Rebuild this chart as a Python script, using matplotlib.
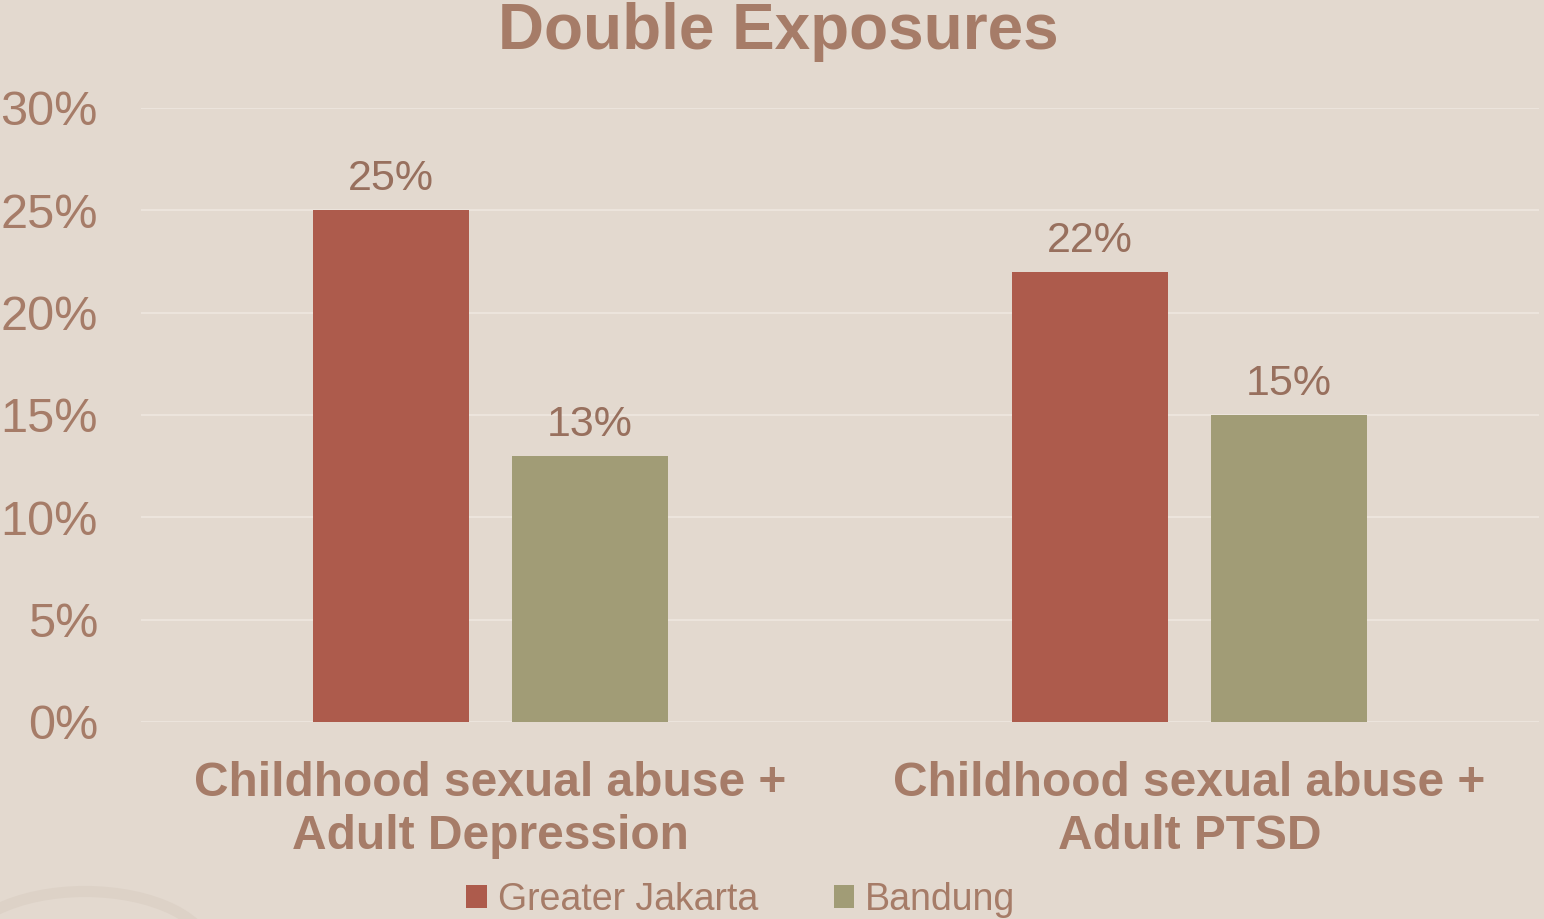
import numpy as np
import matplotlib.pyplot as plt
from matplotlib.patches import Ellipse
from matplotlib.ticker import FuncFormatter

categories = ["Childhood sexual abuse +\nAdult Depression", "Childhood sexual abuse +\nAdult PTSD"]
jakarta = [25, 22]
bandung = [13, 15]
series_names = ["Greater Jakarta", "Bandung"]

bg = "#E3D9CF"
red = "#AD5B4C"
green = "#A19C76"
txt = "#A67C68"
lbl = "#98705E"

plt.rcParams["font.family"] = ["Liberation Sans", "DejaVu Sans"]

fig = plt.figure(figsize=(15.44, 9.19), dpi=100, facecolor=bg)
ax = fig.add_axes([0.0913, 0.2144, 0.9055, 0.6681], facecolor=bg)

# faint decorative arc in the bottom-left corner
fig.patches.append(Ellipse((85 / 1544, -35 / 919), 250 / 1544, 125 / 919, fill=False,
                           edgecolor="#DDD2C7", linewidth=8, transform=fig.transFigure, zorder=0))

x = np.arange(len(categories))
w = 0.223
off = 0.1423
b1 = ax.bar(x - off, jakarta, w, color=red, label=series_names[0], zorder=3)
b2 = ax.bar(x + off, bandung, w, color=green, label=series_names[1], zorder=3)

for bars in (b1, b2):
    ax.bar_label(bars, labels=[f"{v}%" for v in bars.datavalues], padding=8,
                 fontsize=31, color=lbl)

ax.set_xlim(-0.5, 1.5)
ax.set_ylim(0, 30)
ax.set_yticks(range(0, 31, 5))
ax.yaxis.set_major_formatter(FuncFormatter(lambda v, p: f"{v:.0f}%"))
ax.set_xticks(x)
ax.set_xticklabels(categories, fontsize=34.5, fontweight="bold", color=txt, linespacing=1.24)
ax.tick_params(axis="y", labelsize=35, labelcolor=txt, length=0, pad=31)
ax.tick_params(axis="x", length=0, pad=28)
ax.grid(axis="y", color="#ECE4DC", linewidth=1.5, zorder=0)
for s in ax.spines.values():
    s.set_visible(False)

fig.text(0.504, 1 - 32 / 919, "Double Exposures", ha="center", va="center",
         fontsize=46, fontweight="bold", color=txt)

leg = fig.legend(loc="center", bbox_to_anchor=(741 / 1544, 1 - 900 / 919), ncol=2,
                 frameon=False, fontsize=27, labelcolor=txt, handlelength=0.55,
                 handleheight=0.55, handletextpad=0.3, columnspacing=2.0)

fig.savefig("out.png", dpi=100, facecolor=bg)
